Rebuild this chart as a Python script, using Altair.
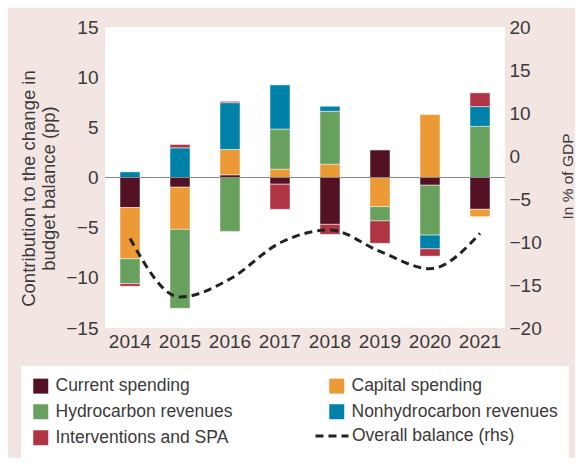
import altair as alt
import pandas as pd

# ---- data ----
years = ["2014", "2015", "2016", "2017", "2018", "2019", "2020", "2021"]
components = ["Current spending", "Capital spending", "Hydrocarbon revenues",
              "Nonhydrocarbon revenues", "Interventions and SPA"]
current = [-3.0, -0.97, 0.27, -0.67, -4.67, 2.77, -0.77, -3.17]
capital = [-5.1, -4.2, 2.53, 0.83, 1.33, -2.9, 6.27, -0.73]
hydro = [-2.47, -7.87, -5.37, 4.0, 5.27, -1.43, -4.97, 5.1]
nonhydro = [0.56, 2.96, 4.66, 4.4, 0.5, 0.0, -1.37, 1.97]
interventions = [-0.27, 0.33, 0.13, -2.5, -1.0, -2.23, -0.73, 1.37]
balance_name = "Overall balance (rhs)"
balance = [-9.6, -16.4, -14.3, -10.1, -8.6, -11.1, -13.1, -9.0]

colors = ["#521224", "#EC9A36", "#68A05E", "#0081A7", "#AF3545"]
line_color = "#222222"
left_ticks = [-15, -10, -5, 0, 5, 10, 15]
right_ticks = [15, 10, 5, 0, -5, -10, -15, -20]
left_title = ["Contribution to the change in", "budget balance (pp)"]
right_title = "In % of GDP"

FONT = "Liberation Sans, Arial, sans-serif"
TXT = "#3a3a3a"
BG = "#F3E5E2"

rows = []
for ci, (name, vals) in enumerate(zip(components, [current, capital, hydro, nonhydro, interventions])):
    for yr, v in zip(years, vals):
        rows.append({"year": yr, "component": name, "value": v, "order": ci})
bars_df = pd.DataFrame(rows)
line_df = pd.DataFrame({"year": years, "balance": balance, "series": [balance_name] * len(years)})

color_legend = alt.Legend(
    title=None, orient="none", legendX=-84, legendY=339, columns=2, direction="horizontal",
    columnPadding=95, rowPadding=7, padding=11, fillColor="white",
    symbolType="square", symbolSize=225, symbolStrokeWidth=0, labelOffset=6,
    labelFont=FONT, labelFontSize=17.5, labelColor=TXT, labelLimit=400, zindex=1,
)
dash_legend = alt.Legend(
    title=None, orient="none", legendX=209, legendY=391, padding=0,
    symbolType="stroke", symbolSize=1089, symbolStrokeColor=line_color,
    symbolStrokeWidth=3, labelOffset=2,
    labelFont=FONT, labelFontSize=17.5, labelColor=TXT, labelLimit=400, zindex=2,
)

x_enc = alt.X("year:O",
              scale=alt.Scale(paddingInner=0.6, paddingOuter=0.3),
              axis=alt.Axis(title=None, labelAngle=0, domain=False, ticks=False,
                            labelPadding=4, labelFontSize=19, labelFont=FONT,
                            labelColor=TXT))

bars = alt.Chart(bars_df).mark_bar(stroke="white", strokeWidth=0.6, strokeOpacity=0.8).encode(
    x=x_enc,
    y=alt.Y("value:Q", stack="zero",
            scale=alt.Scale(domain=[-15, 15], nice=False),
            axis=alt.Axis(values=left_ticks, title=left_title, grid=False, domain=False,
                          ticks=False, labelPadding=7, labelFontSize=19, labelFont=FONT,
                          labelColor=TXT, titleFont=FONT, titleFontSize=18.5,
                          titleFontWeight="normal", titleColor=TXT, titleLineHeight=20,
                          titleX=-77, titleY=161, titleBaseline="middle", titleAngle=270)),
    color=alt.Color("component:N", scale=alt.Scale(domain=components, range=colors),
                    legend=color_legend),
    order=alt.Order("order:Q", sort="ascending"),
)

zero = alt.Chart(bars_df).mark_rule(color="#8a8a8a", strokeWidth=1.2).encode(y=alt.datum(0))

line = alt.Chart(line_df).mark_line(strokeWidth=3, color=line_color, interpolate="monotone",
                                    strokeCap="butt").encode(
    x=alt.X("year:O"),
    y=alt.Y("balance:Q",
            scale=alt.Scale(domain=[-20, 15], nice=False, zero=False),
            axis=alt.Axis(orient="right", values=right_ticks,
                          labelExpr="datum.value > 0 ? format(datum.value + 5, 'd') : datum.label",
                          title=right_title, grid=False, domain=False, ticks=False,
                          labelPadding=4, labelFontSize=19, labelFont=FONT, labelColor=TXT,
                          titleFont=FONT, titleFontSize=15.5, titleFontWeight="normal",
                          titleColor=TXT, titleAngle=270, titleX=62, titleY=149,
                          titleBaseline="middle", titleAlign="center")),
    strokeDash=alt.StrokeDash("series:N", scale=alt.Scale(domain=[balance_name], range=[[8, 5]]),
                              legend=dash_legend),
)

chart = alt.layer(alt.layer(bars, zero), line).resolve_scale(y="independent").properties(
    width=400, height=301,
    autosize=alt.AutoSizeParams(type="none"),
    padding={"left": 97, "top": 19, "right": 70, "bottom": 130},
    background=BG,
).configure_view(fill="white", strokeWidth=0)

chart.save("out.html", embed_options={"renderer": "svg", "actions": False})
